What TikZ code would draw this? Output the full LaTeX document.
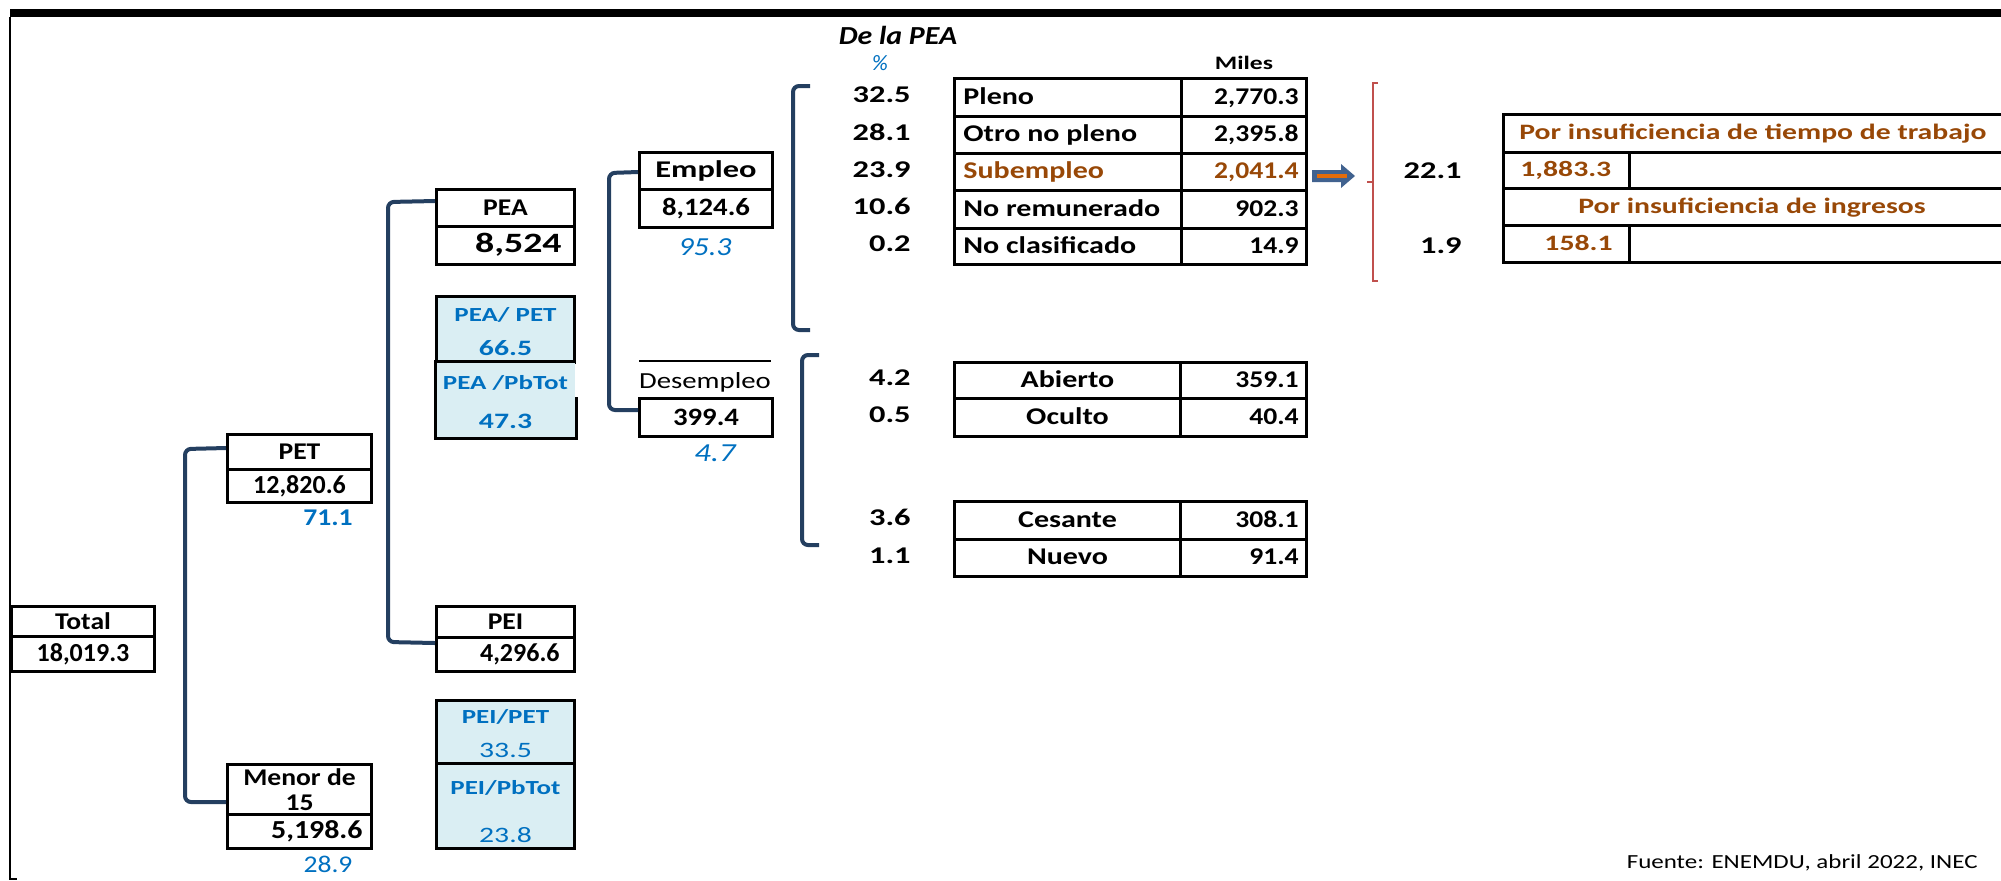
\documentclass[tikz,border=0pt]{standalone}
\usepackage{fontspec}
\setmainfont{Carlito}
\newfontfamily\sA{Carlito}[FakeStretch=1.15]
\newfontfamily\sB{Carlito}[FakeStretch=1.25]
\newfontfamily\sC{Carlito}[FakeStretch=1.35]
\definecolor{brk}{HTML}{243F60}
\definecolor{bluetxt}{HTML}{0070C0}
\definecolor{lightfill}{HTML}{DAEEF3}
\definecolor{brownt}{HTML}{984807}
\definecolor{redbr}{HTML}{C0504D}
\definecolor{arrfill}{HTML}{41628F}
\definecolor{arrline}{HTML}{E46C0A}
\newcommand\cellbox[7][]{\node[cellst,#1,minimum width={(#4-#2)*0.5pt},minimum height={(#5-#3)*0.5pt},anchor=north west] (#6) at (#2,#3) {#7};}
\begin{document}
\begin{tikzpicture}[x=0.5pt,y=-0.5pt,
  cellst/.style={draw=black,line width=1.5pt,inner sep=0pt,font=\fontsize{12}{13}\selectfont\sA\bfseries},
  ratio/.style={fill=lightfill,text=bluetxt},
  brkline/.style={draw=brk,line width=2pt,rounded corners=3pt},
  txt/.style={inner sep=0pt},
  val/.style={font=\fontsize{13}{15}\selectfont\bfseries},
  pct/.style={font=\fontsize{12}{14}\selectfont\sC\bfseries,yshift=-1pt},
  tlab/.style={font=\fontsize{12}{14}\selectfont\sB\bfseries,yshift=-1pt},
  tval/.style={font=\fontsize{12}{14}\selectfont\sA\bfseries,yshift=-1pt},
  rlab/.style={text=bluetxt,font=\fontsize{10}{12}\selectfont\sC\bfseries},
  rvalb/.style={text=bluetxt,font=\fontsize{11}{13}\selectfont\sC\bfseries},
  rval/.style={text=bluetxt,font=\fontsize{11}{13}\selectfont\sC},
  blueit/.style={text=bluetxt,font=\fontsize{13}{15}\selectfont\sA\itshape},
  brtxt/.style={text=brownt,font=\fontsize{11}{13}\selectfont\sC\bfseries,yshift=-1pt},
]
\useasboundingbox (0,0) rectangle (2001,880);
% frame
\fill[black] (10,9) rectangle (2001,17);
\draw[line width=0.6pt] (10,17) -- (10,879) -- (17,879);

% ---- Total
\cellbox{10}{605}{153}{635}{totL}{Total}
\cellbox[val]{10}{635}{153}{670}{totV}{18,019.3}

% ---- PET / Menor
\cellbox{226}{433}{370}{468}{petL}{PET}
\cellbox[val]{226}{468}{370}{501}{petV}{12,820.6}
\node[txt,text=bluetxt,font=\fontsize{12}{14}\selectfont\sA\bfseries] (petP) at (328,518) {71.1};
\cellbox[align=center,font=\fontsize{12}{12.5}\selectfont\sA\bfseries]{226}{763}{370}{813}{menL}{Menor de\\15}
\cellbox{226}{813}{370}{847}{menV}{}
\node[txt,font=\fontsize{13}{15}\selectfont\sA\bfseries,anchor=mid east,yshift=-1pt] at ([xshift=-5pt]menV.east) {5,198.6};
\node[txt,text=bluetxt,font=\fontsize{12}{14}\selectfont\sA] (menP) at (328,864) {28.9};

% ---- PEA / PEI
\cellbox{435}{188}{573}{225}{peaL}{PEA}
\cellbox{435}{225}{573}{263}{peaV}{}
\node[txt,font=\fontsize{14}{16}\selectfont\sC\bfseries,anchor=mid east,yshift=-1pt] at ([xshift=-7pt]peaV.east) {8,524};
\cellbox[ratio]{435}{295}{573}{361}{rpea1}{}
\node[txt,rlab] at ([yshift=-10pt]rpea1.north) {PEA/ PET};
\node[txt,rvalb] at ([yshift=8pt]rpea1.south) {66.5};
\cellbox[ratio,draw=none]{435}{361}{573}{435}{rpea2}{}
\draw[line width=1.5pt] (rpea2.north east) ++(0,-18pt) -- (rpea2.south east) -- (rpea2.south west) -- (rpea2.north west) -- (rpea2.north east);
\node[txt,rlab] at ([yshift=-11pt]rpea2.north) {PEA /PbTot};
\node[txt,rvalb] at ([yshift=8.5pt]rpea2.south) {47.3};

\cellbox{435}{605}{573}{636}{peiL}{PEI}
\cellbox{435}{636}{573}{670}{peiV}{}
\node[txt,val,anchor=mid east,yshift=-1pt] at ([xshift=-8pt]peiV.east) {4,296.6};
\cellbox[ratio]{435}{699}{573}{762}{rpei1}{}
\node[txt,rlab] at ([yshift=-9pt]rpei1.north) {PEI/PET};
\node[txt,rval] at ([yshift=7.5pt]rpei1.south) {33.5};
\cellbox[ratio]{435}{762}{573}{847}{rpei2}{}
\node[txt,rlab] at ([yshift=-13pt]rpei2.north) {PEI/PbTot};
\node[txt,rval] at ([yshift=7.5pt]rpei2.south) {23.8};

% ---- Empleo / Desempleo
\cellbox[font=\fontsize{12}{13}\selectfont\sC\bfseries]{638}{151}{771}{188}{empL}{Empleo}
\cellbox[font=\fontsize{12.5}{13}\selectfont\sA\bfseries]{638}{188}{771}{226}{empV}{8,124.6}
\node[txt,blueit] (empP) at (705,247) {95.3};
\draw[line width=1.2pt] (639,361) -- (771,361);
\node[txt,font=\fontsize{11.5}{13}\selectfont\sB] (desL) at (705,382) {Desempleo};
\cellbox[font=\fontsize{12.5}{13}\selectfont\sA\bfseries]{638}{397}{771}{435}{desV}{399.4}
\node[txt,text=bluetxt,font=\fontsize{13}{15}\selectfont\sB\itshape] (desP) at (715,453) {4.7};

% ---- Brackets
\coordinate (b1t) at (226,448); \coordinate (b1b) at (226,802);
\draw[brkline] (b1t) -- (185,449) -- (185,802) -- (b1b);
\coordinate (b2t) at (435,201); \coordinate (b2b) at (435,643);
\draw[brkline] (b2t) -- (388,202) -- (388,642) -- (b2b);
\coordinate (b3t) at (638,172); \coordinate (b3b) at (638,410);
\draw[brkline] (b3t) -- (609,173) -- (609,410) -- (b3b);
\coordinate (b4t) at (810,86); \coordinate (b4b) at (810,330);
\draw[brkline] (b4t) -- (793,86) -- (793,330) -- (b4b);
\coordinate (b5t) at (819,355); \coordinate (b5b) at (819,545);
\draw[brkline] (b5t) -- (802,355) -- (802,545) -- (b5b);

% ---- header
\node[txt,font=\fontsize{13}{15}\selectfont\sA\bfseries\itshape] (hdr) at (898,35) {De la PEA};
\node[txt,text=bluetxt,font=\fontsize{11}{13}\selectfont\itshape] (hdrp) at (880,63) {\%};
\node[txt,font=\fontsize{9.5}{11}\selectfont\sC\bfseries] (miles) at (1244,63) {Miles};

% ---- main table
\foreach \n/\ya/\yb/\lb/\vl/\pc/\col in {
  1/77/115/Pleno/{2,770.3}/32.5/black,
  2/115/152/Otro no pleno/{2,395.8}/28.1/black,
  3/152/189/Subempleo/{2,041.4}/23.9/brownt,
  4/189/227/No remunerado/902.3/10.6/black,
  5/227/263/No clasificado/14.9/0.2/black}{
  \cellbox{953}{\ya}{1180}{\yb}{mL\n}{}
  \cellbox{1180}{\ya}{1305}{\yb}{mV\n}{}
  \node[txt,tlab,text=\col,anchor=mid west] at ([xshift=5pt]mL\n.west) {\lb};
  \node[txt,tval,text=\col,anchor=mid east] at ([xshift=-4.5pt]mV\n.east) {\vl};
  \node[txt,pct,anchor=mid east] (mP\n) at (911,{(\ya+\yb)/2}) {\pc};
}
% ---- desempleo tables
\foreach \n/\ya/\yb/\lb/\vl/\pc in {
  1/361/397/Abierto/359.1/4.2,
  2/397/435/Oculto/40.4/0.5,
  3/500/538/Cesante/308.1/3.6,
  4/538/575/Nuevo/91.4/1.1}{
  \cellbox{953}{\ya}{1179}{\yb}{dL\n}{}
  \cellbox{1179}{\ya}{1305}{\yb}{dV\n}{}
  \node[txt,tlab,anchor=mid] at (dL\n.center) {\lb};
  \node[txt,tval,anchor=mid east] at ([xshift=-4.5pt]dV\n.east) {\vl};
  \node[txt,pct,anchor=mid east] (dP\n) at (911,{(\ya+\yb)/2}) {\pc};
}

% ---- arrow
\fill[arrfill] (1312,170) -- (1341,170) -- (1341,164) -- (1355,176) -- (1341,188) -- (1341,182) -- (1312,182) -- cycle;
\draw[arrline,line width=1.6pt] (1317,176) -- (1347,176);

% ---- red bracket
\draw[redbr,line width=0.7pt] (1378,83) -- (1373,83) -- (1373,281) -- (1378,281);
\draw[redbr,line width=0.9pt] (1367,182) -- (1373,182);

% ---- right table
\draw[line width=1.5pt] (2001,114) -- (1503,114) -- (1503,262) -- (2001,262);
\draw[line width=1.5pt] (1503,152) -- (2001,152) (1503,188) -- (2001,188) (1503,225) -- (2001,225);
\draw[line width=1.5pt] (1629,152) -- (1629,188) (1629,225) -- (1629,262);
\coordinate (rt1) at (1503,133);
\node[txt,brtxt,anchor=mid west] (rtt) at ([xshift=8pt]rt1) {Por insuficiencia de tiempo de trabajo};
\node[txt,brtxt,anchor=mid west] (rv1) at (1520,170) {1,883.3};
\node[txt,brtxt,anchor=mid] (rti) at (1752,207) {Por insuficiencia de ingresos};
\node[txt,brtxt,anchor=mid east] (rv2) at (1613,244) {158.1};
\node[txt,pct,anchor=mid east] (rp1) at (1462,172) {22.1};
\node[txt,pct,anchor=mid east] (rp2) at (1462,247) {1.9};

% ---- source
\node[txt,font=\fontsize{10}{12}\selectfont\sB,anchor=mid east] (src) at (1978,864) {Fuente: ENEMDU, abril 2022, INEC};
\end{tikzpicture}
\end{document}
